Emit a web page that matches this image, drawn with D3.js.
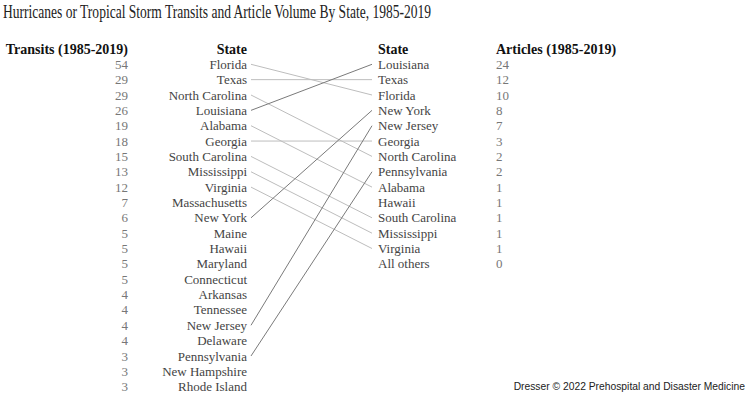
<!DOCTYPE html>
<html>
<head>
<meta charset="utf-8">
<script src="https://cdn.jsdelivr.net/npm/d3@7"></script>
<style>
  body { margin: 0; background: #fff; }
  svg { display: block; }
  text { font-family: "Liberation Serif", "Times New Roman", serif; }
</style>
</head>
<body>
<script>
// left column: transits by state
let transitStates = ["Florida", "Texas", "North Carolina", "Louisiana", "Alabama", "Georgia",
    "South Carolina", "Mississippi", "Virginia", "Massachusetts", "New York", "Maine", "Hawaii",
    "Maryland", "Connecticut", "Arkansas", "Tennessee", "New Jersey", "Delaware", "Pennsylvania",
    "New Hampshire", "Rhode Island"]
let transits = [54, 29, 29, 26, 19, 18, 15, 13, 12, 7, 6, 5, 5, 5, 5, 4, 4, 4, 4, 3, 3, 3]

// right column: articles by state
let articleStates = ["Louisiana", "Texas", "Florida", "New York", "New Jersey", "Georgia",
    "North Carolina", "Pennsylvania", "Alabama", "Hawaii", "South Carolina", "Mississippi",
    "Virginia", "All others"]
let articles = [24, 12, 10, 8, 7, 3, 2, 2, 1, 1, 1, 1, 1, 0]

// states with no connecting line
let unlinked = ["Hawaii"]

let width = 747
let height = 407

let svg = d3.select("body").append("svg")
    .attr("width", width)
    .attr("height", height)

// rows (header sits at row -1)
let y = d3.scaleLinear().domain([0, 21]).range([64.3, 386.7])

// column positions
let xNum = 128, xState = 247, xLine0 = 251, xLine1 = 372, xState2 = 378, xNum2 = 496

svg.append("text")
    .attr("x", 3)
    .attr("y", 18)
    .attr("font-size", 19)
    .attr("fill", "#222")
    .attr("textLength", 428)
    .attr("lengthAdjust", "spacingAndGlyphs")
    .text("Hurricanes or Tropical Storm Transits and Article Volume By State, 1985-2019")

// headers
let headers = [
    { t: "Transits (1985-2019)", x: xNum, a: "end" },
    { t: "State", x: xState, a: "end" },
    { t: "State", x: xState2, a: "start" },
    { t: "Articles (1985-2019)", x: xNum2, a: "start" }
]
svg.append("g").selectAll("text")
    .data(headers)
    .enter()
    .append("text")
    .attr("x", d => d.x)
    .attr("y", y(-1))
    .attr("dy", "0.35em")
    .attr("text-anchor", d => d.a)
    .attr("font-size", 14)
    .attr("font-weight", "bold")
    .attr("fill", "#111")
    .text(d => d.t)

// connecting lines
let links = transitStates
    .map((s, i) => ({ s: s, i: i, j: articleStates.indexOf(s) }))
    .filter(d => d.j >= 0 && unlinked.indexOf(d.s) < 0)

svg.append("g").selectAll("line")
    .data(links)
    .enter()
    .append("line")
    .attr("x1", xLine0)
    .attr("y1", d => y(d.i))
    .attr("x2", xLine1)
    .attr("y2", d => y(d.j))
    .attr("stroke", d => d.j < d.i ? "#7a7a7a" : "#bdbdbd")
    .attr("stroke-width", 1)

// left column
let left = svg.append("g")
left.selectAll(".num")
    .data(transits)
    .enter()
    .append("text")
    .attr("x", xNum)
    .attr("y", (d, i) => y(i))
    .attr("dy", "0.35em")
    .attr("text-anchor", "end")
    .attr("font-size", 13)
    .attr("fill", "#777")
    .text(d => d)

left.selectAll(".st")
    .data(transitStates)
    .enter()
    .append("text")
    .attr("x", xState)
    .attr("y", (d, i) => y(i))
    .attr("dy", "0.35em")
    .attr("text-anchor", "end")
    .attr("font-size", 13)
    .attr("fill", "#444")
    .text(d => d)

// right column
let right = svg.append("g")
right.selectAll(".st")
    .data(articleStates)
    .enter()
    .append("text")
    .attr("x", xState2)
    .attr("y", (d, i) => y(i))
    .attr("dy", "0.35em")
    .attr("font-size", 13)
    .attr("fill", "#444")
    .text(d => d)

right.selectAll(".num")
    .data(articles)
    .enter()
    .append("text")
    .attr("x", xNum2)
    .attr("y", (d, i) => y(i))
    .attr("dy", "0.35em")
    .attr("font-size", 13)
    .attr("fill", "#777")
    .text(d => d)

// credit
svg.append("text")
    .attr("x", 745)
    .attr("y", 390)
    .attr("text-anchor", "end")
    .attr("font-size", 10.3)
    .attr("fill", "#222")
    .style("font-family", "'Liberation Sans', Arial, sans-serif")
    .text("Dresser \u00a9 2022 Prehospital and Disaster Medicine")
</script>
</body>
</html>
